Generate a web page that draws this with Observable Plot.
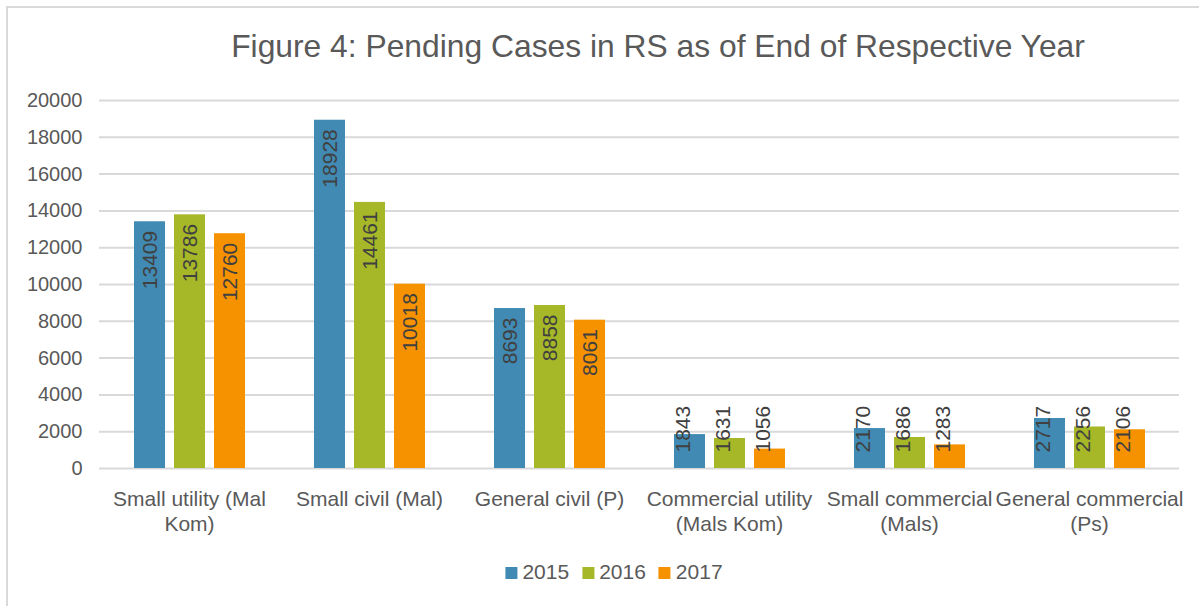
<!DOCTYPE html>
<html>
<head>
<meta charset="utf-8">
<script src="https://cdn.jsdelivr.net/npm/d3@7"></script>
<script src="https://cdn.jsdelivr.net/npm/@observablehq/plot@0.6"></script>
<style>
  html, body { margin: 0; padding: 0; background: #fff; overflow: hidden; }
  body { width: 1199px; height: 606px; position: relative; font-family: "Liberation Sans", Arial, sans-serif; }
  #frame { position: absolute; left: 6px; top: 6px; width: 1300px; height: 700px; border: 2px solid #d9d9d9; box-sizing: border-box; pointer-events: none; }
  #title { position: absolute; left: 658px; top: 31px; transform: translateX(-50%); white-space: nowrap; font-size: 31.8px; line-height: 1; color: #595959; }
  #chart { position: absolute; left: 0; top: 0; }
  #legend { position: absolute; left: 614px; top: 561px; transform: translateX(-50%); white-space: nowrap; font-size: 21px; line-height: 1; color: #595959; }
  .item { display: inline-block; margin-right: 13px; }
  .item:last-child { margin-right: 0; }
  .sw { display: inline-block; width: 12px; height: 12px; margin-right: 5px; }
</style>
</head>
<body>
<div id="chart"></div>
<div id="title">Figure 4: Pending Cases in RS as of End of Respective Year</div>
<div id="legend"></div>
<div id="frame"></div>
<script>
const categories = [
  "Small utility (Mal Kom)",
  "Small civil (Mal)",
  "General civil (P)",
  "Commercial utility (Mals Kom)",
  "Small commercial (Mals)",
  "General commercial (Ps)"
];
const categoryLabels = [
  "Small utility (Mal\nKom)",
  "Small civil (Mal)",
  "General civil (P)",
  "Commercial utility\n(Mals Kom)",
  "Small commercial\n(Mals)",
  "General commercial\n(Ps)"
];
const years = ["2015", "2016", "2017"];
const values2015 = [13409, 18928, 8693, 1843, 2170, 2717];
const values2016 = [13786, 14461, 8858, 1631, 1686, 2256];
const values2017 = [12760, 10018, 8061, 1056, 1283, 2106];
const yTicks = [0, 2000, 4000, 6000, 8000, 10000, 12000, 14000, 16000, 18000, 20000];
const colors = ["#418AB3", "#A6B727", "#F69200"];

const series = [values2015, values2016, values2017];
const data = [];
categories.forEach((c, i) => {
  years.forEach((y, j) => data.push({category: c, year: y, value: series[j][i]}));
});
const insideMin = 3000; // labels of shorter bars sit near the baseline
const tall = data.filter(d => d.value >= insideMin);
const short = data.filter(d => d.value < insideMin);

const chart = Plot.plot({
  width: 1199,
  height: 545,
  marginTop: 100,
  marginBottom: 77,
  marginLeft: 99,
  marginRight: 20,
  style: {background: "transparent", fontFamily: "'Liberation Sans', Arial, sans-serif", overflow: "visible"},
  fx: {domain: categories, padding: 0, axis: null},
  x: {domain: years, paddingInner: 0.225, paddingOuter: 0.8625, axis: null},
  y: {domain: [0, 20000], axis: null},
  color: {domain: years, range: colors},
  marks: [
    Plot.ruleY(yTicks, {stroke: "#d9d9d9", strokeWidth: 2}),
    Plot.axisY({ticks: yTicks, tickSize: 0, tickPadding: 17, fontSize: 20, fill: "#595959", tickFormat: d => String(d), label: null}),
    Plot.barY(data, {fx: "category", x: "year", y: "value", fill: "year"}),
    Plot.text(tall, {fx: "category", x: "year", y: "value", text: d => String(d.value), rotate: -90, textAnchor: "end", dy: 9, fontSize: 21, fill: "#404040"}),
    Plot.text(short, {fx: "category", x: "year", frameAnchor: "bottom", text: d => String(d.value), rotate: -90, textAnchor: "start", dy: -16, fontSize: 21, fill: "#404040"}),
    Plot.text(categories, {fx: d => d, text: (d, i) => categoryLabels[i], frameAnchor: "bottom", lineAnchor: "top", dy: 20, lineHeight: 1.19, fontSize: 21, fill: "#595959"})
  ]
});
document.getElementById("chart").appendChild(chart);

const legend = document.getElementById("legend");
years.forEach((y, j) => {
  const item = document.createElement("span");
  item.className = "item";
  const sw = document.createElement("span");
  sw.className = "sw";
  sw.style.background = colors[j];
  item.appendChild(sw);
  item.appendChild(document.createTextNode(y));
  legend.appendChild(item);
});
</script>
</body>
</html>
